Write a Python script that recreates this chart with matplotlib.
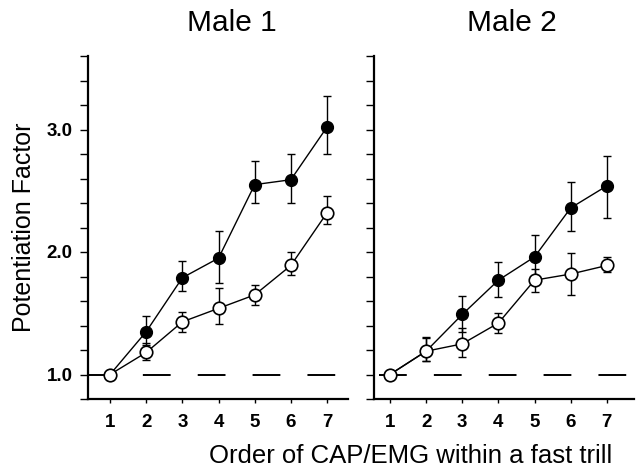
import matplotlib
matplotlib.use("Agg")
import matplotlib.pyplot as plt
import numpy as np

plt.rcParams['font.family'] = ['Liberation Sans', 'DejaVu Sans']
plt.rcParams['lines.scale_dashes'] = False

order = [1, 2, 3, 4, 5, 6, 7]

# Male 1
m1_filled = [1.00, 1.35, 1.79, 1.95, 2.55, 2.59, 3.02]
m1_filled_hi = [1.00, 1.475, 1.93, 2.17, 2.74, 2.80, 3.27]
m1_filled_lo = [1.00, 1.24, 1.68, 1.75, 2.40, 2.40, 2.80]
m1_open = [1.00, 1.18, 1.43, 1.54, 1.65, 1.89, 2.32]
m1_open_hi = [1.00, 1.26, 1.51, 1.71, 1.73, 2.00, 2.46]
m1_open_lo = [1.00, 1.12, 1.35, 1.41, 1.57, 1.81, 2.23]

# Male 2
m2_filled = [1.00, 1.19, 1.49, 1.77, 1.96, 2.36, 2.54]
m2_filled_hi = [1.00, 1.31, 1.64, 1.92, 2.14, 2.57, 2.78]
m2_filled_lo = [1.00, 1.11, 1.35, 1.63, 1.80, 2.17, 2.28]
m2_open = [1.00, 1.19, 1.25, 1.42, 1.77, 1.82, 1.89]
m2_open_hi = [1.00, 1.30, 1.38, 1.50, 1.86, 1.99, 1.96]
m2_open_lo = [1.00, 1.11, 1.14, 1.34, 1.67, 1.65, 1.84]

titles = ["Male 1", "Male 2"]
ytick_major = [1.0, 2.0, 3.0]
baseline = 1.0

W, H = 638, 472
fig = plt.figure(figsize=(W / 100, H / 100), dpi=100)

ax1 = fig.add_axes([88 / W, 1 - 399 / H, 260 / W, 343 / H])
ax2 = fig.add_axes([374 / W, 1 - 399 / H, 260 / W, 343 / H])

panels = [
    (ax1, m1_filled, m1_filled_lo, m1_filled_hi, m1_open, m1_open_lo, m1_open_hi, (0.39, 7.58), 0.39),
    (ax2, m2_filled, m2_filled_lo, m2_filled_hi, m2_open, m2_open_lo, m2_open_hi, (0.56, 7.75), 0.70),
]

yt = np.arange(0.8, 3.61, 0.2)

for ax, f, flo, fhi, o, olo, ohi, xl, dstart in panels:
    ax.set_xlim(*xl)
    ax.set_ylim(0.8, 3.6)
    # dashed baseline
    ax.plot([dstart, xl[1]], [baseline, baseline], color='black', lw=1.4,
            dashes=(20, 19.5), zorder=1, solid_capstyle='butt', dash_capstyle='butt')
    f = np.array(f); o = np.array(o)
    ax.errorbar(order, f, yerr=[f - np.array(flo), np.array(fhi) - f],
                fmt='none', ecolor='black', elinewidth=1.0, capsize=3, capthick=1.0, zorder=2)
    ax.errorbar(order, o, yerr=[o - np.array(olo), np.array(ohi) - o],
                fmt='none', ecolor='black', elinewidth=1.0, capsize=3, capthick=1.0, zorder=2)
    ax.plot(order, f, color='black', lw=1.0, marker='o', markersize=8.5,
            markerfacecolor='black', markeredgecolor='black', markeredgewidth=1.0, zorder=3)
    ax.plot(order, o, color='black', lw=1.0, marker='o', markersize=9,
            markerfacecolor='white', markeredgecolor='black', markeredgewidth=1.2, zorder=4)

    for s in ['top', 'right']:
        ax.spines[s].set_visible(False)
    for s in ['left', 'bottom']:
        ax.spines[s].set_linewidth(1.6)
    ax.set_xticks(order)
    ax.set_xticklabels([str(v) for v in order], fontsize=13.5, fontweight='bold')
    ax.tick_params(axis='x', direction='out', length=3, width=1.0, pad=8)
    ax.set_yticks(yt)
    ax.tick_params(axis='y', direction='out', length=6, width=1.0, pad=5)

ax1.set_yticklabels(['%.1f' % t if any(abs(t - m) < 1e-6 for m in ytick_major) else ''
                     for t in yt], fontsize=13.5, fontweight='bold')
ax2.set_yticklabels([])

fig.text(232 / W, 1 - 31 / H, titles[0], ha='center', va='baseline', fontsize=21.5)
fig.text(512 / W, 1 - 31 / H, titles[1], ha='center', va='baseline', fontsize=21.5)
fig.text(411 / W, 1 - 463 / H, "Order of CAP/EMG within a fast trill",
         ha='center', va='baseline', fontsize=18.5)
fig.text(24 / W, 1 - 227 / H, "Potentiation Factor", rotation=90,
         ha='center', va='center', fontsize=18)

fig.savefig("out.png", dpi=100)
